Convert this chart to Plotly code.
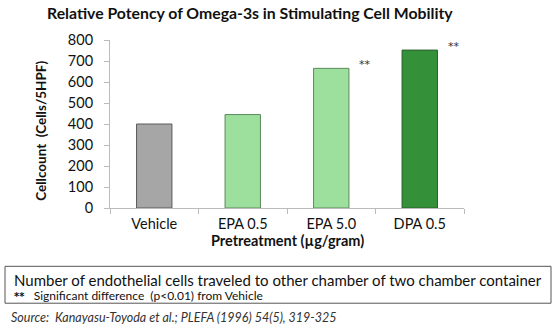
import plotly.graph_objects as go

categories = ["Vehicle", "EPA 0.5", "EPA 5.0", "DPA 0.5"]
values = [400, 445, 665, 752]
significance = ["", "", "**", "**"]
bar_colors = ["#a6a6a6", "#9ddf9d", "#9ddf9d", "#34913a"]
line_colors = ["#5a5a5a", "#5c8a5c", "#5c8a5c", "#2a5e2a"]
y_ticks = [0, 100, 200, 300, 400, 500, 600, 700, 800]

W, H = 554, 334
L, R = 110, 464
T, B = 40, 208.5
FONT = "Lato"

def px(x):
    return (x - L) / (R - L)

def py(y):
    return (B - y) / (B - T)

fig = go.Figure()
fig.add_trace(go.Bar(
    x=categories, y=values,
    marker=dict(color=bar_colors, line=dict(color=line_colors, width=1)),
    width=0.40,
    hoverinfo="skip",
))

for c, v, s in zip(categories, values, significance):
    if s:
        fig.add_annotation(x=c, y=v, text=s, showarrow=False,
                           xref="x", yref="y", xanchor="left", yanchor="middle",
                           xshift=26, yshift=4,
                           font=dict(family="DejaVu Sans", size=11, color="#333"))

fig.update_layout(
    width=W, height=H,
    margin=dict(l=L, r=W - R, t=T, b=H - B, pad=0),
    plot_bgcolor="white", paper_bgcolor="white",
    showlegend=False,
    font=dict(family=FONT, color="#111"),
    xaxis=dict(
        showline=True, linecolor="#bcbcbc", linewidth=1,
        ticks="outside", tickson="boundaries", ticklen=5, tickcolor="#bcbcbc",
        tickfont=dict(family=FONT, size=14.5, color="#111"),
        ticklabelstandoff=3,
        showgrid=False, range=[-0.5, 3.5],
    ),
    yaxis=dict(
        range=[0, 800], tickvals=y_ticks,
        showline=True, linecolor="#bcbcbc", linewidth=1,
        ticks="outside", ticklen=5, tickcolor="#bcbcbc",
        tickfont=dict(family=FONT, size=14.5, color="#111"),
        ticklabelstandoff=8,
        showgrid=False, zeroline=False,
    ),
)

# Title
fig.add_annotation(text="<b>Relative Potency of Omega-3s in Stimulating Cell Mobility</b>",
                   xref="paper", yref="paper", x=px(250), y=py(12),
                   xanchor="center", yanchor="middle", showarrow=False,
                   font=dict(family=FONT, size=15.8, color="#111"))
# Axis titles
fig.add_annotation(text="<b>Pretreatment (µg/gram)</b>",
                   xref="paper", yref="paper", x=px(287), y=py(241),
                   xanchor="center", yanchor="middle", showarrow=False,
                   font=dict(family=FONT, size=14.5, color="#111"))
fig.add_annotation(text="<b>Cellcount  (Cells/5HPF)</b>",
                   xref="paper", yref="paper", x=px(41), y=py(131),
                   xanchor="center", yanchor="middle", showarrow=False, textangle=-90,
                   font=dict(family=FONT, size=13.5, color="#111"))

# Note box
fig.add_shape(type="rect", xref="paper", yref="paper",
              x0=px(5), x1=px(551), y0=py(267), y1=py(304),
              line=dict(color="#555", width=1), fillcolor="rgba(0,0,0,0)")
fig.add_annotation(text="Number of endothelial cells traveled to other chamber of two chamber container",
                   xref="paper", yref="paper", x=px(12), y=py(281),
                   xanchor="left", yanchor="middle", showarrow=False,
                   font=dict(family=FONT, size=15, color="#111"))
fig.add_annotation(text="<span style='font-family:DejaVu Sans;font-size:10px'><b>**</b></span>   Significant difference  (p<0.01) from Vehicle",
                   xref="paper", yref="paper", x=px(12), y=py(296),
                   xanchor="left", yanchor="middle", showarrow=False,
                   font=dict(family=FONT, size=12, color="#111"))
fig.add_annotation(text="<i>Source:  Kanayasu-Toyoda et al.; PLEFA (1996) 54(5), 319-325</i>",
                   xref="paper", yref="paper", x=px(9), y=py(318),
                   xanchor="left", yanchor="middle", showarrow=False,
                   font=dict(family=FONT, size=12.5, color="#333"))

fig.write_html("out.html")
